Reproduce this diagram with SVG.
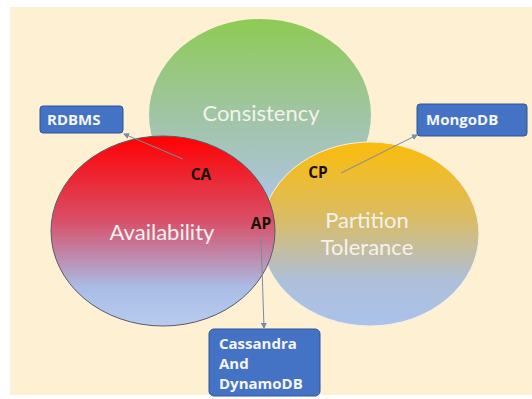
<svg xmlns="http://www.w3.org/2000/svg" width="532" height="399" viewBox="0 0 532 399">
<style>
.big{font-family:Lato,"Open Sans","Liberation Sans",sans-serif;font-size:22px;fill:#f4f2ee;text-anchor:middle}
.lbl{font-family:"Open Sans","Liberation Sans",sans-serif;font-size:15.5px;font-weight:bold;fill:#1a1008;text-anchor:middle}
.box{fill:#4472c4;stroke:#2f5597;stroke-width:1}
.bt{font-family:"Open Sans","Liberation Sans",sans-serif;font-size:15px;font-weight:bold;fill:#f4f6fb}
.con{stroke:#7a8aa0;stroke-width:1;fill:none;marker-end:url(#ah)}
</style>
<defs>
<linearGradient id="gC" x1="0" y1="0" x2="0" y2="1">
<stop offset="0" stop-color="#8ecb54"/>
<stop offset="0.5" stop-color="#a0c5a4"/>
<stop offset="1" stop-color="#b0c4e8"/>
</linearGradient>
<linearGradient id="gA" x1="0" y1="0" x2="0" y2="1">
<stop offset="0" stop-color="#ff0000"/>
<stop offset="0.45" stop-color="#d8506a"/>
<stop offset="0.8" stop-color="#a9bde6"/>
<stop offset="1" stop-color="#b8cbee"/>
</linearGradient>
<linearGradient id="gP" x1="0" y1="0" x2="0" y2="1">
<stop offset="0" stop-color="#fbbc0a"/>
<stop offset="0.4" stop-color="#dcbc60"/>
<stop offset="0.75" stop-color="#aebfd8"/>
<stop offset="1" stop-color="#aac2ec"/>
</linearGradient>
<marker id="ah" viewBox="0 0 6 6" refX="5" refY="3" markerWidth="6" markerHeight="6" orient="auto">
<path d="M0,0 L6,3 L0,6 z" fill="#7a8aa0"/>
</marker>
</defs>
<rect x="0" y="0" width="532" height="399" fill="#ffffff"/>
<rect x="10" y="7" width="522" height="388" fill="#fdf0d3"/>
<g id="consistency">
<ellipse cx="260" cy="115" rx="111" ry="96" fill="url(#gC)"/>
<text class="big" x="261" y="121">Consistency</text>
</g>
<g id="partition">
<ellipse cx="370" cy="234" rx="109" ry="92" fill="url(#gP)" stroke="#f4f0e6" stroke-width="1"/>
<text class="big" x="367" y="228">Partition</text>
<text class="big" x="367" y="255">Tolerance</text>
</g>
<g id="availability">
<ellipse cx="163" cy="231" rx="112" ry="95" fill="url(#gA)" stroke="#5a5a6a" stroke-width="1"/>
<text class="big" x="162" y="240">Availability</text>
</g>
<g id="ca"><text class="lbl" x="201" y="180">CA</text></g>
<g id="cp"><text class="lbl" x="318" y="178">CP</text></g>
<g id="ap"><text class="lbl" x="261" y="229">AP</text></g>
<g id="rdbms">
<rect class="box" x="40" y="106" width="83" height="27" rx="3"/>
<text class="bt" x="47" y="125">RDBMS</text>
</g>
<g id="mongodb">
<rect class="box" x="417" y="104" width="110" height="32" rx="3"/>
<text class="bt" x="426" y="125">MongoDB</text>
</g>
<g id="cassandra">
<rect class="box" x="209" y="329" width="111" height="67" rx="5"/>
<text class="bt" x="219" y="349">Cassandra</text>
<text class="bt" x="219" y="369">And</text>
<text class="bt" x="219" y="389">DynamoDB</text>
</g>
<g id="connectors">
<line class="con" x1="183" y1="159" x2="124" y2="134"/>
<line class="con" x1="341" y1="173" x2="417" y2="135"/>
<line class="con" x1="261" y1="238" x2="264" y2="328"/>
</g>
</svg>
